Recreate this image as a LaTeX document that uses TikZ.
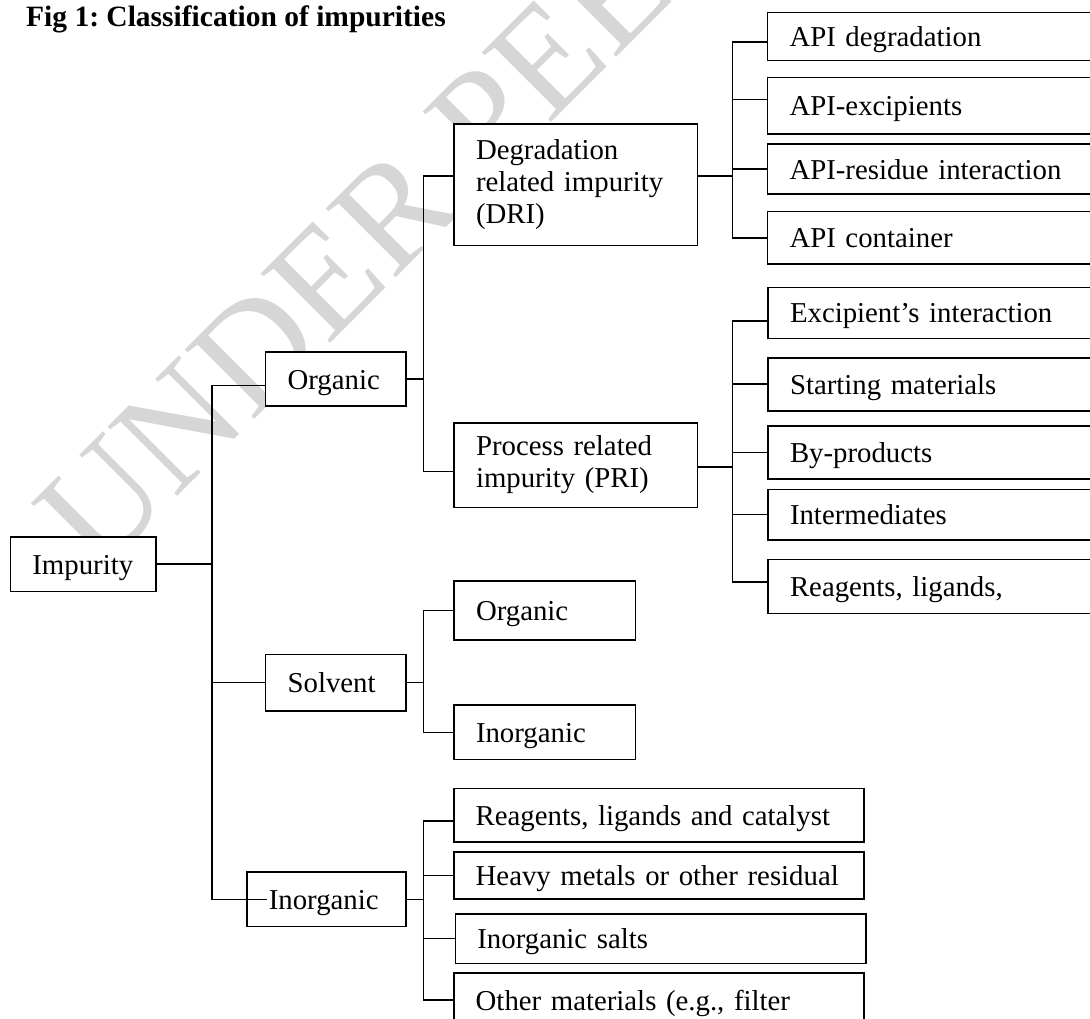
\documentclass[tikz,border=0pt]{standalone}
\usepackage{fontspec}
\setmainfont{Liberation Serif}
\usepackage{tikz}
\frenchspacing

\tikzset{
  box/.style={draw, fill=white, line width=1.6pt, anchor=north west, outer sep=0pt,
    inner xsep=22pt, inner ysep=0pt, align=left, font=\fontsize{28.8}{32}\selectfont},
  cell/.style={box, text height=20pt, text depth=0pt},
  link/.style={line width=1.6pt},
}

\begin{document}
\begin{tikzpicture}[x=1pt, y=-1pt]
			\useasboundingbox (0,0) rectangle (1090,1019);
			\node[rotate=45, anchor=base west, inner sep=0pt, text=black!16, font=\fontsize{150}{150}\selectfont] (mark) at (98,576) {UNDER PEER};
			\node[anchor=base west, inner sep=0pt, font=\bfseries\fontsize{29.5}{32}\selectfont] (title) at (26,27) {Fig 1: Classification of impurities};
			\node[cell, minimum width=145.3pt, minimum height=54.6pt, text width=101.3pt] (imp) at (10.4,536.7) {Impurity};
			\node[cell, minimum width=140.4pt, minimum height=53.9pt, text width=96.4pt] (org) at (265.6,352.2) {Organic};
			\node[cell, minimum width=140.4pt, minimum height=56.4pt, text width=96.4pt] (sol) at (265.6,654.3) {Solvent};
			\node[cell, minimum width=159.2pt, minimum height=54.6pt, text width=115.2pt] (inorg) at (246.8,872) {Inorganic};
			\node[box, minimum width=243.5pt, minimum height=121.5pt, text width=199.5pt] (dri) at (454,124) {Degradation\\related impurity\\(DRI)};
			\node[box, minimum width=243.5pt, minimum height=84.6pt, text width=199.5pt] (pri) at (454,422.7) {Process related\\impurity (PRI)};
			\node[cell, minimum width=340pt, minimum height=48pt, text width=296pt] (api1) at (767.5,12.7) {API degradation};
			\node[cell, minimum width=340pt, minimum height=56.3pt, text width=296pt] (api2) at (767.5,77.7) {API-excipients};
			\node[cell, minimum width=340pt, minimum height=50pt, text width=296pt] (api3) at (767.5,144.3) {API-residue interaction};
			\node[cell, minimum width=340pt, minimum height=52.3pt, text width=296pt] (api4) at (767.5,211.7) {API container};
			\node[cell, minimum width=340pt, minimum height=51pt, text width=296pt] (prc1) at (768,287.3) {Excipient’s interaction};
			\node[cell, minimum width=340pt, minimum height=53pt, text width=296pt] (prc2) at (768,357.7) {Starting materials};
			\node[cell, minimum width=340pt, minimum height=53pt, text width=296pt] (prc3) at (768,426) {By-products};
			\node[cell, minimum width=340pt, minimum height=50.7pt, text width=296pt] (prc4) at (768,489.3) {Intermediates};
			\node[cell, minimum width=340pt, minimum height=54pt, text width=296pt] (prc5) at (768,559.3) {Reagents, ligands,};
			\node[cell, minimum width=181.3pt, minimum height=59.3pt, text width=137.3pt] (sorg) at (454,580.7) {Organic};
			\node[cell, minimum width=181.3pt, minimum height=54.6pt, text width=137.3pt] (sinorg) at (454,705) {Inorganic};
			\node[cell, minimum width=410.3pt, minimum height=53.4pt, text width=366.3pt] (ino1) at (453.7,788.3) {Reagents, ligands and catalyst};
			\node[cell, minimum width=410.3pt, minimum height=47.3pt, text width=366.3pt] (ino2) at (453.7,851.7) {Heavy metals or other residual};
			\node[cell, minimum width=410.6pt, minimum height=49.3pt, text width=366.6pt] (ino3) at (455.4,914) {Inorganic salts};
			\node[cell, minimum width=410.3pt, minimum height=55pt, text width=366.3pt] (ino4) at (453.7,972.7) {Other materials (e.g., filter};
			\coordinate (s0) at (212,0);
			\coordinate (s1) at (423.5,0);
			\coordinate (s2) at (732.3,0);
			\draw[link](imp.east)--(imp.east-|s0);
			\draw[link]([yshift=-6.5pt]org.west)-|(s0|-inorg.west)--([xshift=20pt]inorg.west);
			\draw[link](s0|-sol.west)--(sol.west);
			\draw[link](org.east)--(org.east-|s1);
			\draw[link]([yshift=9pt]dri.west)-|([yshift=-6.5pt]s1|-pri.west)--([yshift=-6.5pt]pri.west);
			\draw[link](sol.east)--(sol.east-|s1);
			\draw[link](sorg.west)-|(s1|-sinorg.west)--(sinorg.west);
			\draw[link](inorg.east)--(inorg.east-|s1);
			\draw[link]([yshift=-6pt]ino1.west)-|(s1|-ino4.west)--(ino4.west);
			\draw[link](s1|-ino2.west)--(ino2.west);
			\draw[link](s1|-ino3.west)--(ino3.west);
			\draw[link]([yshift=9pt]dri.east)--([yshift=9pt]dri.east-|s2);
			\draw[link]([yshift=-5.5pt]api1.west)-|(s2|-api4.west)--(api4.west);
			\draw[link]([yshift=6.5pt]s2|-api2.west)--([yshift=6.5pt]api2.west);
			\draw[link](s2|-api3.west)--(api3.west);
			\draw[link]([yshift=-2pt]pri.east)--([yshift=-2pt]pri.east-|s2);
			\draw[link]([yshift=-8pt]prc1.west)-|([yshift=4.5pt]s2|-prc5.west)--([yshift=4.5pt]prc5.west);
			\draw[link](s2|-prc2.west)--(prc2.west);
			\draw[link](s2|-prc3.west)--(prc3.west);
			\draw[link](s2|-prc4.west)--(prc4.west);
		\end{tikzpicture}
\end{document}
